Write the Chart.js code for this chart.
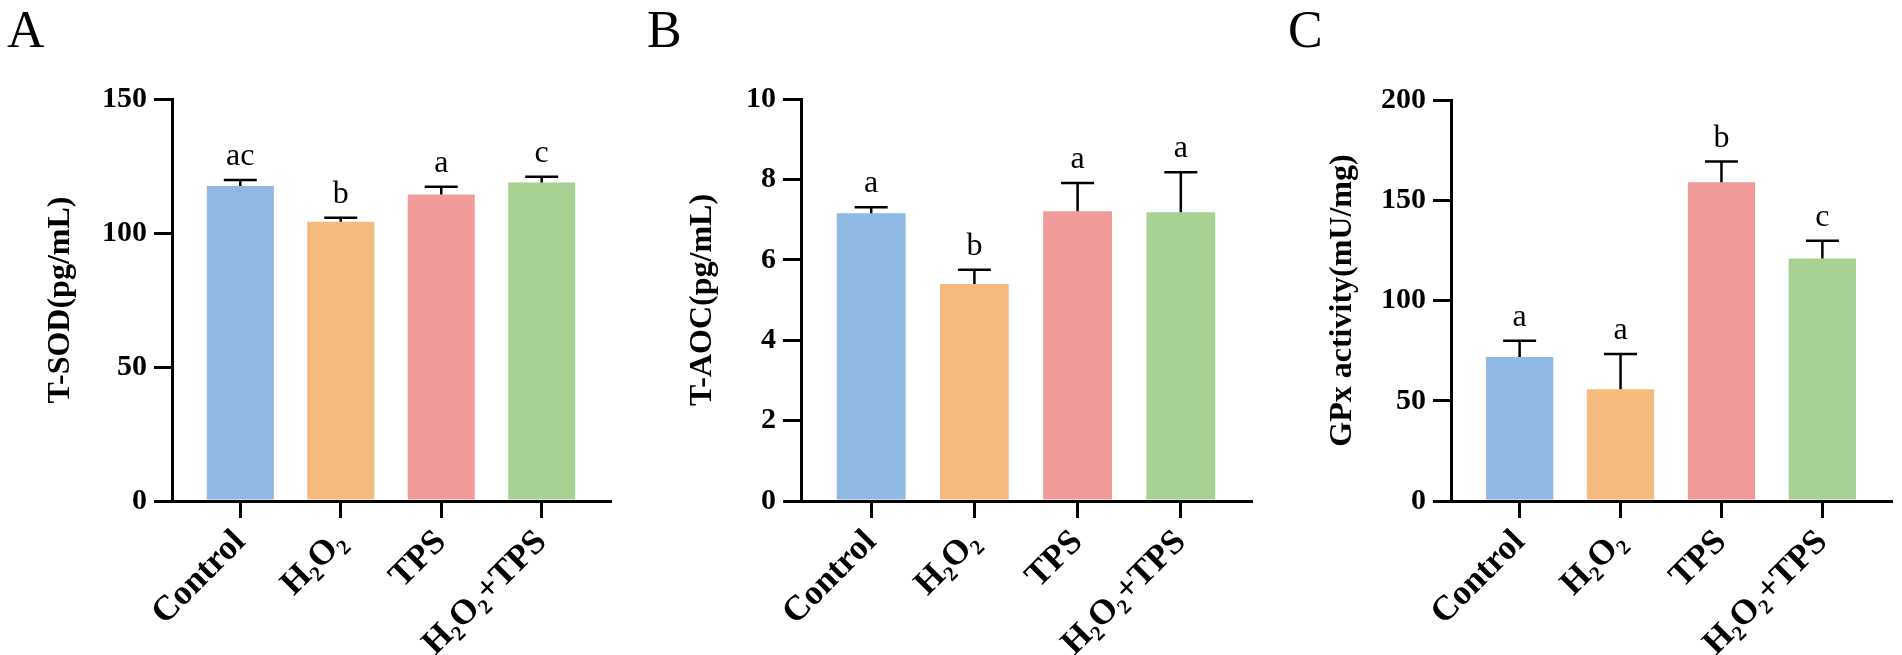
<!DOCTYPE html>
<html>
<head>
<meta charset="utf-8">
<script src="https://cdn.jsdelivr.net/npm/chart.js@4.4.0/dist/chart.umd.min.js"></script>
<style>
  html, body { margin: 0; padding: 0; background: #fff; }
  body { width: 1902px; height: 655px; position: relative; overflow: hidden; }
  canvas { position: absolute; top: 0; }
  .tag {
    position: absolute; top: 4px; margin: 0;
    font: 52px 'Times New Roman', 'Liberation Serif', serif;
    line-height: 52px; color: #000;
  }
</style>
</head>
<body>
<div class="tag" style="left:7px">A</div>
<div class="tag" style="left:647px">B</div>
<div class="tag" style="left:1288px">C</div>
<canvas id="sod" width="640" height="655" style="left:0"></canvas>
<canvas id="aoc" width="640" height="655" style="left:640px"></canvas>
<canvas id="gpx" width="622" height="655" style="left:1280px"></canvas>
<script>
const groups = ['Control', 'H₂O₂', 'TPS', 'H₂O₂+TPS']

const sodMean = [117.5, 104.2, 114.4, 118.8]
const sodErr = [2.3, 1.5, 2.9, 2.2]
const sodLetters = ['ac', 'b', 'a', 'c']

const aocMean = [7.16, 5.40, 7.21, 7.18]
const aocErr = [0.15, 0.35, 0.70, 1.00]
const aocLetters = ['a', 'b', 'a', 'a']

const gpxMean = [71.8, 55.7, 159.0, 121.0]
const gpxErr = [8.1, 17.6, 10.3, 8.8]
const gpxLetters = ['a', 'a', 'b', 'c']

const barColors = ['#8FB8E2', '#F5BA7E', '#F09A9A', '#A7D293']
const serif = "'Times New Roman', 'Liberation Serif', serif"

// upper error bar + significance letter over each bar
const errorBars = (means, errs, letters) => ({
  id: 'errorBars',
  afterDatasetsDraw(chart) {
    const { ctx, scales: { x, y } } = chart
    ctx.save()
    ctx.strokeStyle = '#000'
    ctx.lineWidth = 2.5
    ctx.fillStyle = '#000'
    ctx.font = '32px ' + serif
    ctx.textAlign = 'center'
    ctx.textBaseline = 'alphabetic'
    means.forEach((m, i) => {
      const cx = x.getPixelForValue(i)
      const y0 = y.getPixelForValue(m)
      const y1 = y.getPixelForValue(m + errs[i])
      ctx.beginPath()
      ctx.moveTo(cx, y0)
      ctx.lineTo(cx, y1)
      ctx.moveTo(cx - 16.5, y1)
      ctx.lineTo(cx + 16.5, y1)
      ctx.stroke()
      ctx.fillText(letters[i], cx, y1 - 15)
    })
    ctx.restore()
  }
})

function drawPanel(id, p) {
  const gap = 0.68
  return new Chart(document.getElementById(id), {
    type: 'bar',
    data: {
      datasets: [{
        data: p.means.map((v, i) => ({ x: i, y: v })),
        backgroundColor: barColors,
        borderWidth: 0,
        barPercentage: 0.667,
        categoryPercentage: 1
      }]
    },
    options: {
      responsive: false,
      animation: false,
      devicePixelRatio: 1,
      layout: { padding: p.pad },
      plugins: { legend: { display: false }, tooltip: { enabled: false } },
      scales: {
        x: {
          type: 'linear',
          offset: false,
          min: -gap,
          max: groups.length - 1 + gap,
          afterBuildTicks: s => { s.ticks = groups.map((g, i) => ({ value: i })) },
          afterFit: s => { s.height = 154 },
          grid: { offset: false, drawOnChartArea: false, drawTicks: true, tickLength: 17, lineWidth: 3, color: '#000' },
          border: { display: true, width: 3, color: '#000', z: 1 },
          ticks: {
            callback: v => groups[v],
            autoSkip: false,
            minRotation: 45,
            maxRotation: 45,
            padding: 4,
            color: '#000',
            font: { family: serif, size: 35, weight: 'bold' }
          }
        },
        y: {
          min: 0,
          max: p.yMax,
          afterFit: s => { s.width = p.yWidth },
          grid: { drawOnChartArea: false, drawTicks: true, tickLength: 18, lineWidth: 3, color: '#000' },
          border: { display: true, width: 3, color: '#000', z: 1 },
          ticks: {
            stepSize: p.yStep,
            padding: 7,
            color: '#000',
            font: { family: serif, size: 30, weight: 'bold' }
          },
          title: {
            display: true,
            text: p.title,
            padding: 0,
            color: '#000',
            font: { family: serif, size: 32, weight: 'bold' }
          }
        }
      }
    },
    plugins: [errorBars(p.means, p.errs, p.letters)]
  })
}

drawPanel('sod', {
  means: sodMean, errs: sodErr, letters: sodLetters,
  title: 'T-SOD(pg/mL)', yMax: 150, yStep: 50,
  pad: { left: 42, right: 30, top: 99, bottom: 0 }, yWidth: 130
})
drawPanel('aoc', {
  means: aocMean, errs: aocErr, letters: aocLetters,
  title: 'T-AOC(pg/mL)', yMax: 10, yStep: 2,
  pad: { left: 44, right: 29, top: 99, bottom: 0 }, yWidth: 117
})
drawPanel('gpx', {
  means: gpxMean, errs: gpxErr, letters: gpxLetters,
  title: 'GPx activity(mU/mg)', yMax: 200, yStep: 50,
  pad: { left: 44, right: 11, top: 100, bottom: 0 }, yWidth: 127
})
</script>
</body>
</html>
